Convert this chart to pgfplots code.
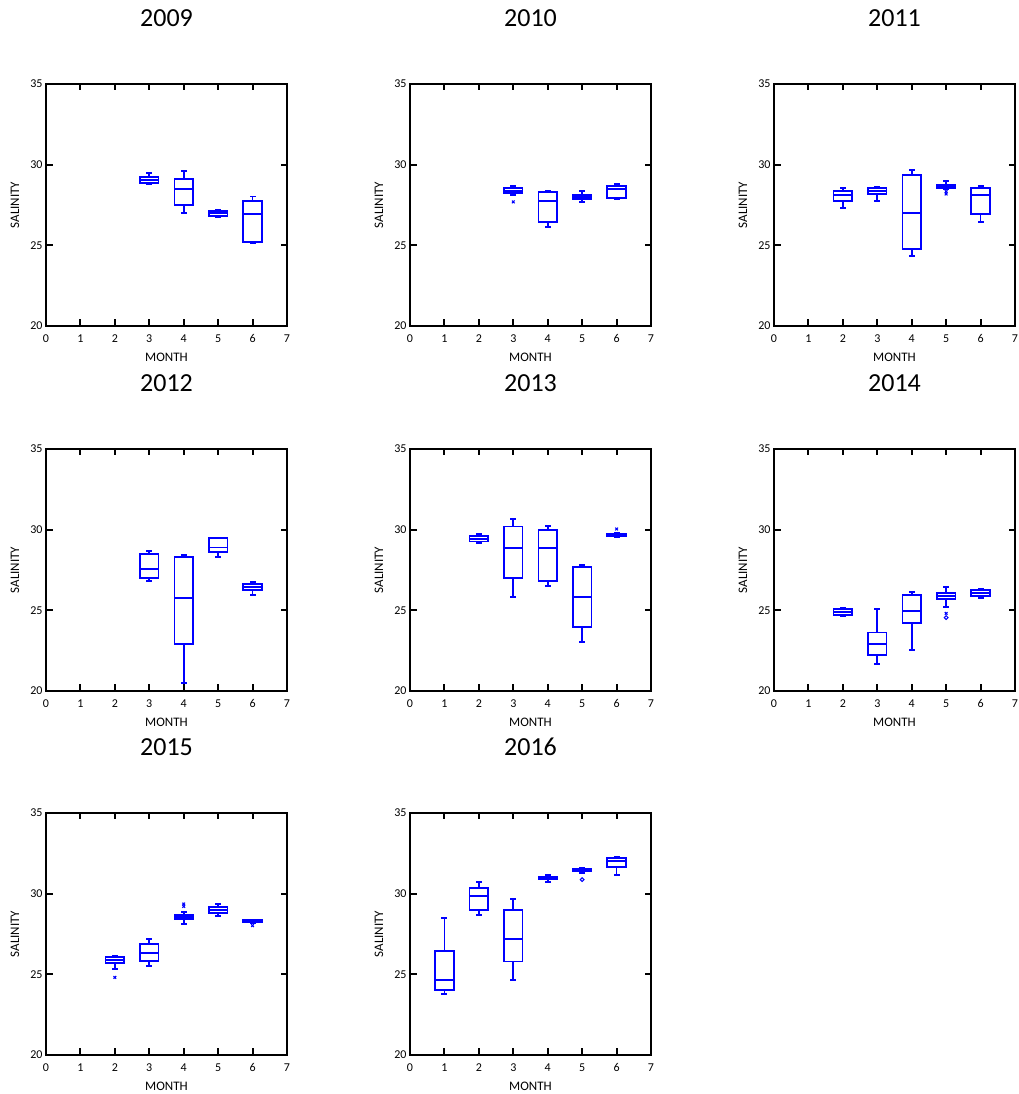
\documentclass[border=0pt]{standalone}
\usepackage{fontspec}
\setmainfont{Carlito}
\usepackage{pgfplots}
\pgfplotsset{compat=1.18}

\pgfplotsset{panel/.style={
  scale only axis, width=241pt, height=242pt, anchor=south west,
  xmin=0, xmax=7, ymin=20, ymax=35,
  xtick={0,1,2,3,4,5,6,7}, ytick={20,25,30,35},
  axis line style={line width=2.1pt, line cap=rect},
  major tick style={line width=2pt, black}, major tick length=6.5pt,
  tick label style={font=\fontsize{12}{14}\selectfont},
  /pgf/number format/assume math mode=true,
  xticklabel style={yshift=-5pt},
  xlabel={MONTH}, ylabel={SALINITY},
  label style={font=\fontsize{13}{15}\selectfont},
  xlabel style={at={(axis description cs:0.5,-0.128)}, anchor=center},
  ylabel style={at={(axis description cs:-0.1286,0.5)}, anchor=center},
  title style={at={(axis description cs:0.5,1)}, anchor=center, yshift=60pt, font=\fontsize{26}{30}\selectfont},
  clip=false,
},
bxl/.style={color=blue, line width=1.8pt, mark=none, line cap=rect, line join=miter, forget plot}}

% \bx{month}{lower whisker}{lower quartile}{median}{upper quartile}{upper whisker}
\newcommand{\bx}[6]{%
  \pgfmathsetmacro\xa{#1-0.27}\pgfmathsetmacro\xb{#1+0.27}%
  \pgfmathsetmacro\ca{#1-0.06}\pgfmathsetmacro\cb{#1+0.06}%
  \edef\tmp{%
    \noexpand\addplot[bxl] coordinates {(\xa,#3) (\xb,#3) (\xb,#5) (\xa,#5) (\xa,#3)};
    \noexpand\addplot[bxl] coordinates {(\xa,#4) (\xb,#4)};
    \noexpand\addplot[bxl] coordinates {(#1,#5) (#1,#6)};
    \noexpand\addplot[bxl] coordinates {(#1,#3) (#1,#2)};
    \noexpand\addplot[bxl] coordinates {(\ca,#6) (\cb,#6)};
    \noexpand\addplot[bxl] coordinates {(\ca,#2) (\cb,#2)};
  }\tmp}
\newcommand{\ox}[1]{\addplot[only marks, color=blue, mark=x, mark size=1.9pt, line width=1.1pt, forget plot] coordinates {#1};}
\newcommand{\oo}[1]{\addplot[only marks, color=blue, mark=o, mark size=1.9pt, line width=1pt, forget plot] coordinates {#1};}

\begin{document}
\begin{tikzpicture}
\path[use as bounding box] (0,0) rectangle (1019pt,1094pt);

% 2009
\begin{axis}[panel, at={(46pt,768pt)}, title={2009}]
\bx{3}{28.78}{28.88}{29.05}{29.21}{29.48}
\bx{4}{27.02}{27.5}{28.47}{29.11}{29.6}
\bx{5}{26.78}{26.82}{26.98}{27.15}{27.19}
\bx{6}{25.12}{25.19}{26.92}{27.73}{28.02}
\end{axis}

% 2010
\begin{axis}[panel, at={(410pt,768pt)}, title={2010}]
\bx{3}{28.1}{28.22}{28.39}{28.55}{28.7}
\bx{4}{26.16}{26.47}{27.75}{28.29}{28.39}
\bx{5}{27.67}{27.87}{28.0}{28.14}{28.37}
\bx{6}{27.89}{27.95}{28.49}{28.66}{28.8}
\ox{(3,27.69)}
\end{axis}

% 2011
\begin{axis}[panel, at={(774pt,768pt)}, title={2011}]
\bx{2}{27.33}{27.75}{28.1}{28.39}{28.53}
\bx{3}{27.77}{28.18}{28.35}{28.53}{28.64}
\bx{4}{24.34}{24.75}{26.98}{29.36}{29.67}
\bx{5}{28.47}{28.55}{28.66}{28.76}{28.99}
\bx{6}{26.47}{26.92}{28.1}{28.53}{28.7}
\ox{(5,28.33) (5,28.18)}
\end{axis}

% 2012
\begin{axis}[panel, at={(46pt,403pt)}, title={2012}]
\bx{3}{26.84}{26.98}{27.58}{28.47}{28.7}
\bx{4}{20.48}{22.89}{25.74}{28.29}{28.43}
\bx{5}{28.33}{28.6}{28.9}{29.46}{29.52}
\bx{6}{25.95}{26.26}{26.47}{26.63}{26.78}
\end{axis}

% 2013
\begin{axis}[panel, at={(410pt,403pt)}, title={2013}]
\bx{2}{29.19}{29.26}{29.4}{29.61}{29.75}
\bx{3}{25.83}{27.02}{28.88}{30.19}{30.64}
\bx{4}{26.53}{26.82}{28.88}{30.0}{30.25}
\bx{5}{23.06}{23.95}{25.83}{27.69}{27.83}
\bx{6}{29.55}{29.63}{29.69}{29.75}{29.83}
\ox{(6,30.04)}
\end{axis}

% 2014
\begin{axis}[panel, at={(774pt,403pt)}, title={2014}]
\bx{2}{24.65}{24.71}{24.88}{25.06}{25.12}
\bx{3}{21.69}{22.21}{22.89}{23.62}{25.06}
\bx{4}{22.52}{24.19}{24.96}{25.95}{26.16}
\bx{5}{25.21}{25.72}{25.91}{26.07}{26.43}
\bx{6}{25.74}{25.91}{26.07}{26.24}{26.32}
\ox{(5,24.81)}
\oo{(5,24.55)}
\end{axis}

% 2015
\begin{axis}[panel, at={(46pt,39pt)}, title={2015}]
\bx{2}{25.35}{25.72}{25.91}{26.05}{26.14}
\bx{3}{25.5}{25.83}{26.3}{26.9}{27.19}
\bx{4}{28.1}{28.41}{28.55}{28.7}{28.88}
\bx{5}{28.64}{28.78}{28.99}{29.17}{29.38}
\bx{6}{28.18}{28.24}{28.31}{28.35}{28.37}
\ox{(2,24.81) (4,29.36) (4,29.21) (6,28.02)}
\end{axis}

% 2016
\begin{axis}[panel, at={(410pt,39pt)}, title={2016}]
\bx{1}{23.8}{24.01}{24.63}{26.47}{28.51}
\bx{2}{28.7}{28.99}{29.88}{30.37}{30.72}
\bx{3}{24.67}{25.79}{27.19}{28.99}{29.67}
\bx{4}{30.72}{30.91}{30.99}{31.05}{31.14}
\bx{5}{31.28}{31.38}{31.47}{31.53}{31.57}
\bx{6}{31.16}{31.63}{32.02}{32.21}{32.27}
\oo{(5,30.87)}
\end{axis}
\end{tikzpicture}
\end{document}
